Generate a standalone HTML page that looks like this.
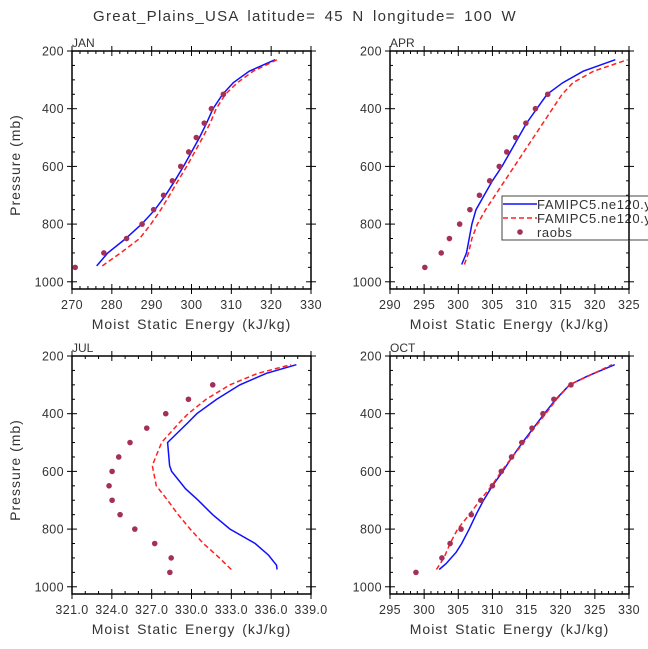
<!DOCTYPE html>
<html><head><meta charset="utf-8"><style>
body{margin:0;background:#fff;}
svg{display:block;font-family:"Liberation Sans",sans-serif;}
</style></head><body>
<svg id="c" width="648" height="649" viewBox="0 0 648 649">
<text x="305" y="21" text-anchor="middle" font-size="15" fill="#333" letter-spacing="1.3" word-spacing="3">Great_Plains_USA  latitude= 45 N longitude= 100 W</text>
</svg>
<script>
const lev = [950,900,850,800,750,700,650,600,550,500,450,400,350];
const levOct = [950,900,850,800,750,700,650,600,550,500,450,400,350,300];
const janObs = [270.8,278,283.7,287.6,290.5,293,295.2,297.3,299.3,301.2,303.2,305,308];
const janBlueP = [945,900,850,800,750,700,650,600,550,500,450,400,350,310,270,230];
const janBlue = [276.2,279,283.5,287.5,290.8,293.5,295.8,298,300,302,303.8,305.4,307.8,310.5,314.5,321];
const janRed = [277.6,282.2,287,289.8,292.3,294.5,296.6,298.8,300.8,302.8,304.7,306.2,308.5,311.5,315.5,321.5];
const aprObs = [295.1,297.5,298.7,300.2,301.7,303.1,304.6,306,307.1,308.4,309.9,311.3,313.1];
const modP = [940,900,850,800,750,700,650,600,550,500,450,400,350,310,270,230];
const aprBlue = [300.5,301.2,301.6,302,302.6,303.8,305,306.4,307.6,308.8,310,311.5,313,315.3,318.3,323];
const aprRed = [300.9,301.5,302,302.8,304,305.4,306.8,308.2,309.6,311,312.4,313.8,315.2,316.8,319.8,324.8];
const julObs = [328.37,328.47,327.23,325.73,324.62,324.02,323.79,324.02,324.52,325.37,326.63,328.06,329.77,331.6];
const julBlueP = [940,925,890,850,800,750,700,660,600,580,500,430,400,350,300,260,230];
const julBlue = [336.45,336.4,335.8,334.8,332.9,331.6,330.5,329.55,328.5,328.35,328.2,329.75,330.4,331.9,333.65,335.65,337.9];
const julRedP = [940,900,850,800,750,700,650,580,500,430,400,350,300,260,230];
const julRed = [333,332.1,330.9,329.9,329,328.2,327.35,327.05,327.75,329.1,329.75,331.1,332.9,335,337.5];
const octObs = [298.8,302.6,303.8,305.4,306.9,308.3,310,311.3,312.8,314.3,315.8,317.4,319,321.5];
const octBlueP = [940,920,880,850,800,750,700,650,600,550,500,450,400,350,300,270,230];
const octBlue = [302.2,303.2,304.7,305.5,306.6,307.6,308.7,310,311.5,312.9,314.4,316,317.6,319.3,321.3,323.9,327.9];
const octRedP = [940,900,850,800,750,700,650,600,550,500,450,400,350,300,270,230];
const octRed = [301.8,302.9,303.8,304.9,306.6,308.2,309.9,311.3,312.9,314.6,316.1,317.8,319.4,321.3,324,327.5];
const janTicks = ["270","280","290","300","310","320","330"];
const aprTicks = ["290","295","300","305","310","315","320","325"];
const julTicks = ["321.0","324.0","327.0","330.0","333.0","336.0","339.0"];
const octTicks = ["295","300","305","310","315","320","325","330"];
const yTicks = ["200","400","600","800","1000"];

const svg = document.getElementById('c');
const NS = 'http://www.w3.org/2000/svg';
function mk(tag, attrs, parent){const e=document.createElementNS(NS,tag);for(const k in attrs)e.setAttribute(k,attrs[k]);(parent||svg).appendChild(e);return e;}

function panel(name, x0, y0, xmin, xmax, xticks, nminor, title, showYLabel, series){
  const W=239, H=238;
  const g = mk('g',{});
  
  
  const xs = v => x0 + (v - xmin)/(xmax - xmin)*W;
  const ys = p => y0 + (p - 200)/825*H;
  const fr = mk('rect',{x:x0,y:y0,width:W,height:H,fill:'none',stroke:'#000','stroke-width':1.5},g);
  
  
  const lt = mk('text',{x:x0,y:y0-4,'font-size':12,fill:'#333'},g);
  lt.textContent = title;
  
  
  const step = (xmax-xmin)/(xticks.length-1);
  for(let i=0;i<xticks.length;i++){
    const v = xmin + i*step, x = xs(v);
    mk('line',{x1:x,x2:x,y1:y0-5,y2:y0+5,stroke:'#000'},g);
    mk('line',{x1:x,x2:x,y1:y0+H-5,y2:y0+H+5,stroke:'#000'},g);
    const t = mk('text',{x:x,y:y0+H+20,'text-anchor':'middle','font-size':12.5,fill:'#333','letter-spacing':'0.4'},g);
    t.textContent = xticks[i];
    
    
    if(i<xticks.length-1){
      for(let j=1;j<nminor;j++){
        const xm = xs(v + step*j/nminor);
        mk('line',{x1:xm,x2:xm,y1:y0,y2:y0+3,stroke:'#000'},g);
        mk('line',{x1:xm,x2:xm,y1:y0+H-3,y2:y0+H,stroke:'#000'},g);
      }
    }
  }
  for(let p=200;p<=1000;p+=50){
    const y = ys(p), maj = p%200===0;
    if(maj){
      mk('line',{x1:x0-5,x2:x0+5,y1:y,y2:y,stroke:'#000'},g);
      mk('line',{x1:x0+W-5,x2:x0+W+5,y1:y,y2:y,stroke:'#000'},g);
      const t = mk('text',{x:x0-8,y:y+4.5,'text-anchor':'end','font-size':12.5,fill:'#333','letter-spacing':'0.4'},g);
      t.textContent = String(p);
      
      
    } else {
      mk('line',{x1:x0,x2:x0+3,y1:y,y2:y,stroke:'#000'},g);
      mk('line',{x1:x0+W-3,x2:x0+W,y1:y,y2:y,stroke:'#000'},g);
    }
  }
  const xl = mk('text',{x:x0+W/2,y:y0+H+40,'text-anchor':'middle','font-size':14,fill:'#333','letter-spacing':'1','word-spacing':'2'},g);
  xl.textContent = 'Moist Static Energy (kJ/kg)';
  
  
  if(showYLabel){
    const yl = mk('text',{x:0,y:0,'text-anchor':'middle','font-size':14,fill:'#333','letter-spacing':'1',transform:`translate(20,${y0+H/2-5}) rotate(-90)`},g);
    yl.textContent = 'Pressure (mb)';
    
    
  }
  const bp = series.blue.map((v,i)=>xs(v).toFixed(1)+','+ys(series.blueP[i]).toFixed(1)).join(' ');
  const bl = mk('polyline',{points:bp,fill:'none',stroke:'#1010ff','stroke-width':1.5},g);
  
  
  const rp = series.red.map((v,i)=>xs(v).toFixed(1)+','+ys(series.redP[i]).toFixed(1)).join(' ');
  const rl = mk('polyline',{points:rp,fill:'none',stroke:'#ff2020','stroke-width':1.5,'stroke-dasharray':'5,3'},g);
  
  
  series.obs.forEach((v,i)=>{
    const c = mk('circle',{cx:xs(v),cy:ys(series.obsP[i]),r:2.8,fill:'#a3305a'},g);
    
    
  });
}
panel('jan',72,51,270,330,janTicks,5,'JAN',true,{blue:janBlue,blueP:janBlueP,red:janRed,redP:janBlueP,obs:janObs,obsP:lev});
panel('apr',390,51,290,325,aprTicks,5,'APR',false,{blue:aprBlue,blueP:modP,red:aprRed,redP:modP,obs:aprObs,obsP:lev});
panel('jul',72,356,321,339,julTicks,3,'JUL',true,{blue:julBlue,blueP:julBlueP,red:julRed,redP:julRedP,obs:julObs,obsP:levOct});
panel('oct',390,356,295,330,octTicks,5,'OCT',false,{blue:octBlue,blueP:octBlueP,red:octRed,redP:octRedP,obs:octObs,obsP:levOct});

const lg = mk('g',{});


mk('rect',{x:502,y:196,width:160,height:44,fill:'#fff',stroke:'#444','stroke-width':1},lg);
mk('line',{x1:503,x2:537,y1:204,y2:204,stroke:'#1010ff','stroke-width':1.5},lg);
mk('line',{x1:503,x2:537,y1:218,y2:218,stroke:'#ff2020','stroke-width':1.5,'stroke-dasharray':'5,3'},lg);
mk('circle',{cx:520,cy:232,r:2.8,fill:'#a3305a'},lg);
const names=['FAMIPC5.ne120.y','FAMIPC5.ne120.y','raobs'];
names.forEach((n,i)=>{
  const t=mk('text',{x:537,y:209+i*14,'font-size':13,fill:'#333','letter-spacing':'0.6'},lg);
  t.textContent=n;
  
  
});
mk('line',{x1:629,x2:629,y1:196,y2:240,stroke:'#000','stroke-width':1.5},lg);
</script>
</body></html>
